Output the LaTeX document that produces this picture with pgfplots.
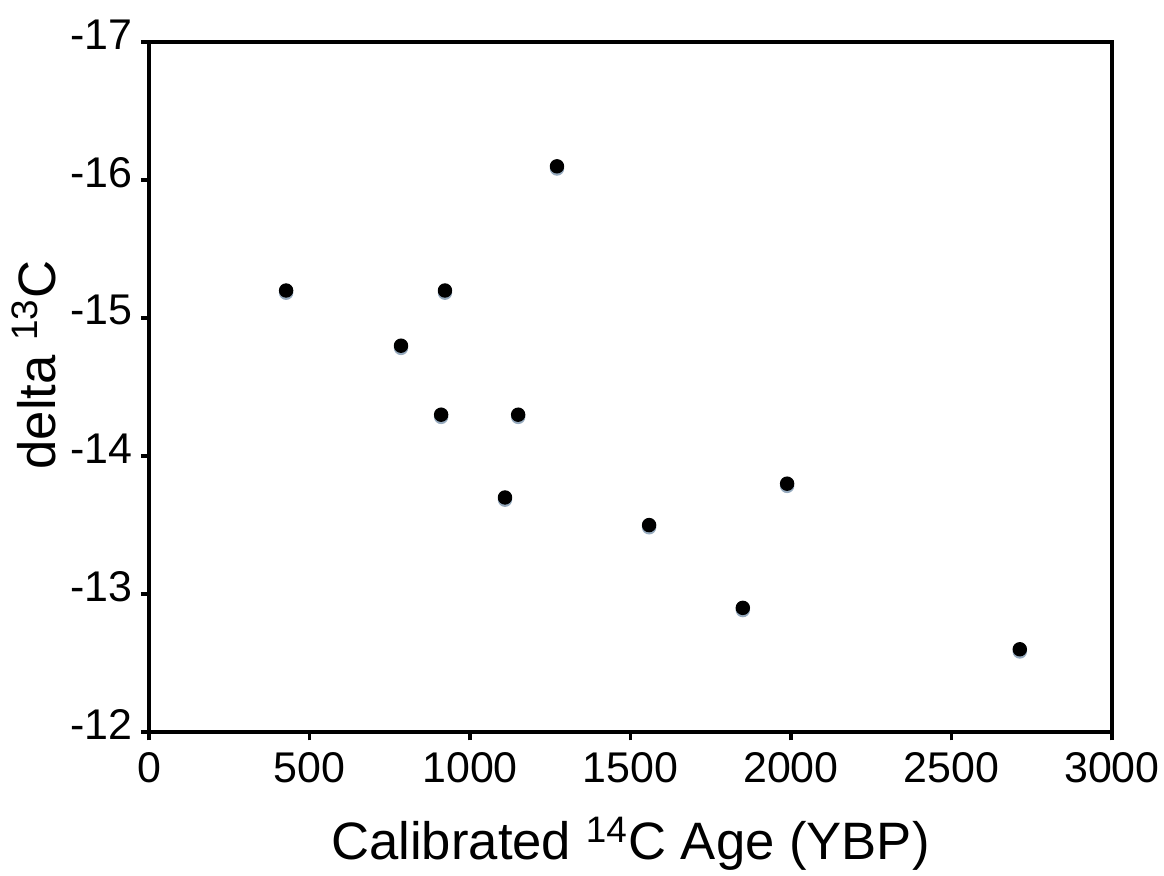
\documentclass[border=0pt]{standalone}
\usepackage{pgfplots}
\pgfplotsset{compat=1.18}
\usepackage{fontspec}
\setmainfont{Liberation Sans}
\begin{document}
\begin{tikzpicture}
\path[use as bounding box] (-53.8pt,-51.6pt) rectangle (366.3pt,264.2pt);
\begin{axis}[
  at={(0,0)}, anchor=south west,
  scale only axis, width=347.5pt, height=249pt,
  xmin=0, xmax=3000, ymin=-17, ymax=-12,
  y dir=reverse,
  xtick={0,500,1000,1500,2000,2500,3000},
  xticklabels={0,500,1000,1500,2000,2500,3000},
  ytick={-17,-16,-15,-14,-13,-12},
  yticklabels={-17,-16,-15,-14,-13,-12},
  tick align=outside, major tick length=3pt,
  tick style={line width=1.3pt, black},
  axis line style={line width=1.4pt},
  xtick pos=bottom, ytick pos=left,
  ticklabel style={font=\fontsize{15.5}{18}\selectfont},
  xticklabel style={yshift=-0.7pt},
  yticklabel style={yshift=2.8pt, xshift=0.6pt},
  label style={font=\fontsize{19}{23}\selectfont},
  xlabel={Calibrated \textsuperscript{14}C Age (YBP)},
  ylabel={delta \textsuperscript{13}C},
  xlabel style={yshift=-5.5pt},
  ylabel style={yshift=-1.5pt, xshift=8pt},
]
\addplot[only marks, mark=*, mark size=2.4pt, color={rgb,255:red,150;green,170;blue,190},
  every mark/.append style={yshift=-0.8pt}] coordinates {
(427,-15.2) (785,-14.8) (922,-15.2) (1271,-16.1) (910,-14.3) (1150,-14.3)
(1109,-13.7) (1558,-13.5) (1850,-12.9) (1988,-13.8) (2713,-12.6)
};
\addplot[only marks, mark=*, mark size=2.4pt, black] coordinates {
(427,-15.2) (785,-14.8) (922,-15.2) (1271,-16.1) (910,-14.3) (1150,-14.3)
(1109,-13.7) (1558,-13.5) (1850,-12.9) (1988,-13.8) (2713,-12.6)
};
\end{axis}
\end{tikzpicture}
\end{document}
